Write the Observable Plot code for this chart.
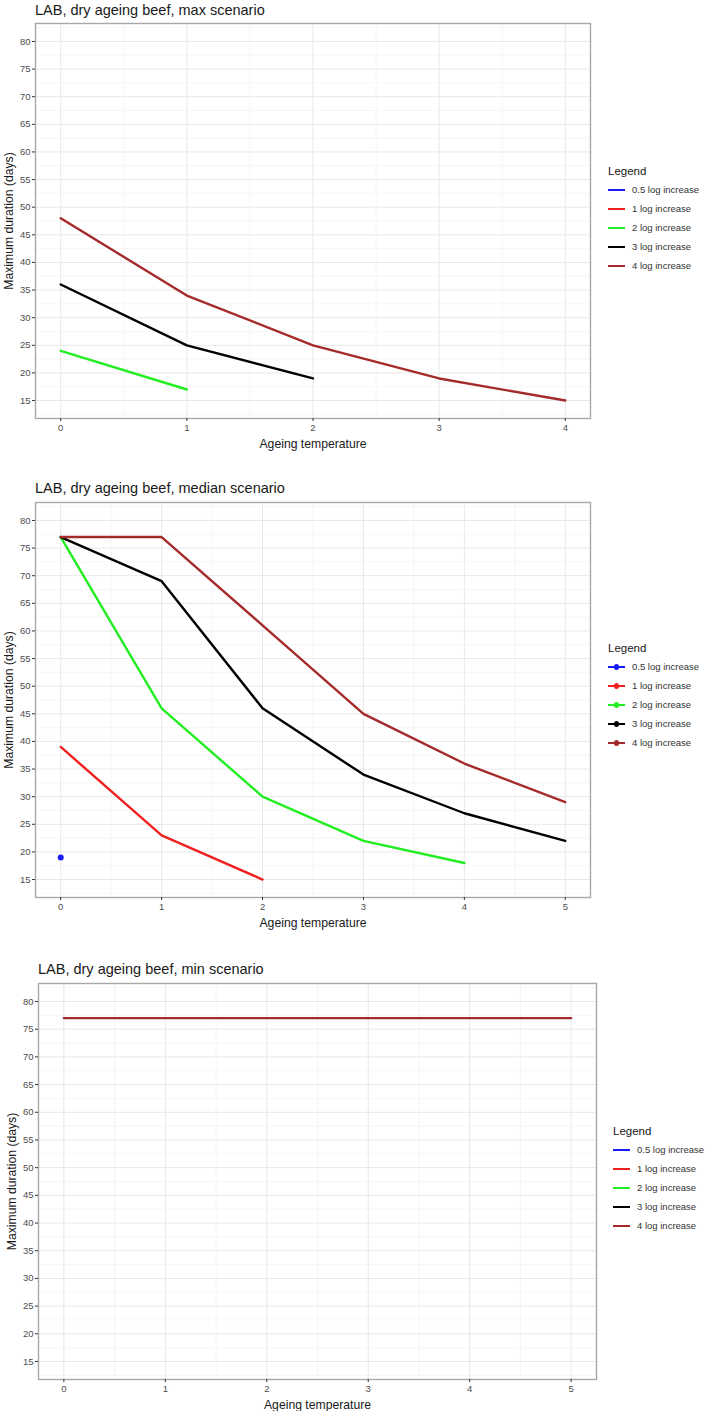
<!DOCTYPE html>
<html><head><meta charset="utf-8">
<script src="https://cdn.jsdelivr.net/npm/d3@7"></script>
<script src="https://cdn.jsdelivr.net/npm/@observablehq/plot@0.6"></script>
<style>
body{margin:0;background:#fff;font-family:"Liberation Sans",Arial,sans-serif;}
#root{position:relative;width:709px;height:1411px;overflow:hidden;background:#fff;}
.title{position:absolute;font-size:14.5px;color:#1a1a1a;white-space:nowrap;line-height:1;}
.legend{position:absolute;font-size:9.5px;color:#333;}
.legend .lt{font-size:11.5px;color:#1a1a1a;height:18px;line-height:18px;}
.legend .it{display:flex;align-items:center;height:19px;white-space:nowrap;}
.key{position:relative;width:17px;height:10px;margin-right:7px;}
.key .ln{position:absolute;left:0;right:0;top:4px;height:2.4px;}
.key .pt{position:absolute;left:5.5px;top:2.5px;width:5.5px;height:5.5px;border-radius:50%;}
</style></head>
<body><div id="root"></div>
<script>
// ---- data ----
const series = ["0.5 log increase","1 log increase","2 log increase","3 log increase","4 log increase"];
const seriesColors = ["#1a1aff","#f02020","#22ee22","#000000","#a52a2a"];
const temps = [0,1,2,3,4,5];
const yTicks = [15,20,25,30,35,40,45,50,55,60,65,70,75,80];

// max scenario (values at temps 0,1,2,...)
const max_2log = [24,17];
const max_3log = [36,25,19];
const max_4log = [48,34,25,19,15];

// median scenario
const median_05log = [19];
const median_1log = [39,23,15];
const median_2log = [77,46,30,22,18];
const median_3log = [77,69,46,34,27,22];
const median_4log = [77,77,61,45,36,29];

// min scenario
const min_4log = [77,77,77,77,77,77];

const titles = ["LAB, dry ageing beef, max scenario","LAB, dry ageing beef, median scenario","LAB, dry ageing beef, min scenario"];

function rows(name, vals){ return vals.map((v,i)=>({series:name, t:temps[i], v})); }

const panels = [
  {title:titles[0], lines:[[series[2],max_2log],[series[3],max_3log],[series[4],max_4log]], dots:[], xmax:4, exp:0.2,
   L:35,T:23,R:590,B:418, titleX:35,titleY:3, legX:608,legY:162, withDots:false},
  {title:titles[1], lines:[[series[1],median_1log],[series[2],median_2log],[series[3],median_3log],[series[4],median_4log]], dots:[[series[0],median_05log]], xmax:5, exp:0.25,
   L:35,T:502,R:590,B:897, titleX:35,titleY:481, legX:608,legY:639, withDots:true},
  {title:titles[2], lines:[[series[4],min_4log]], dots:[], xmax:5, exp:0.25,
   L:38,T:983,R:596,B:1379, titleX:38,titleY:962, legX:613,legY:1122, withDots:false}
];

const root = document.getElementById("root");
const W = 630;

panels.forEach(p=>{
  const lineData = p.lines.flatMap(([n,v])=>rows(n,v));
  const dotData = p.dots.flatMap(([n,v])=>rows(n,v));
  const xt = temps.filter(t=>t<=p.xmax);
  const xMinor = xt.slice(0,-1).map(t=>t+0.5);
  const yMinor = [12.5, ...yTicks.map(t=>t+2.5)];
  const top = p.T - 5, mb = 32;
  const chart = Plot.plot({
    width: W, height: p.B + mb - top,
    marginLeft: p.L, marginRight: W - p.R, marginTop: 5, marginBottom: mb,
    style:{fontFamily:"Liberation Sans, Arial, sans-serif", fontSize:"9px", background:"transparent", overflow:"visible"},
    x:{domain:[-p.exp, p.xmax + p.exp]},
    y:{domain:[11.75, 83.25]},
    color:{domain:series, range:seriesColors},
    marks:[
      Plot.gridX(xMinor,{stroke:"#f0f0f0", strokeOpacity:1, strokeWidth:0.6}),
      Plot.gridY(yMinor,{stroke:"#f0f0f0", strokeOpacity:1, strokeWidth:0.6}),
      Plot.gridX(xt,{stroke:"#e8e8e8", strokeOpacity:1, strokeWidth:1}),
      Plot.gridY(yTicks,{stroke:"#e8e8e8", strokeOpacity:1, strokeWidth:1}),
      Plot.frame({stroke:"#a8a8a8", strokeWidth:1.4}),
      Plot.axisX(xt,{tickSize:3, tickPadding:3, stroke:"#333", color:"#4d4d4d", fontSize:9.5, tickFormat:d3.format("d"),
        label:"Ageing temperature", labelAnchor:"center", labelOffset:29, labelArrow:false}),
      Plot.axisY(yTicks,{tickSize:3, tickPadding:2, stroke:"#333", color:"#4d4d4d", fontSize:9.5,
        label:"Maximum duration (days)", labelAnchor:"center", labelOffset:31, labelArrow:false}),
      Plot.line(lineData,{x:"t", y:"v", z:"series", stroke:"series", strokeWidth:2.4}),
      Plot.dot(dotData,{x:"t", y:"v", fill:"series", r:3})
    ]
  });
  chart.style.position = "absolute";
  chart.style.left = "0px";
  chart.style.top = top + "px";
  chart.style.overflow = "visible";
  chart.querySelectorAll("g[aria-label='x-axis label'] text, g[aria-label='y-axis label'] text").forEach(t=>{
    t.setAttribute("font-size","12.2"); t.setAttribute("fill","#1a1a1a");
    t.textContent = t.textContent.replace(/\s*[→↑←↓]\s*/g,"").trim();
  });
  root.appendChild(chart);

  const t = document.createElement("div");
  t.className = "title"; t.textContent = p.title;
  t.style.left = p.titleX + "px"; t.style.top = p.titleY + "px";
  root.appendChild(t);

  const lg = document.createElement("div");
  lg.className = "legend";
  lg.style.left = p.legX + "px"; lg.style.top = p.legY + "px";
  let html = '<div class="lt">Legend</div>';
  series.forEach((s,i)=>{
    html += `<div class="it"><span class="key"><span class="ln" style="background:${seriesColors[i]}"></span>` +
      (p.withDots ? `<span class="pt" style="background:${seriesColors[i]}"></span>` : "") +
      `</span><span>${s}</span></div>`;
  });
  lg.innerHTML = html;
  root.appendChild(lg);
});
</script>
</body></html>
